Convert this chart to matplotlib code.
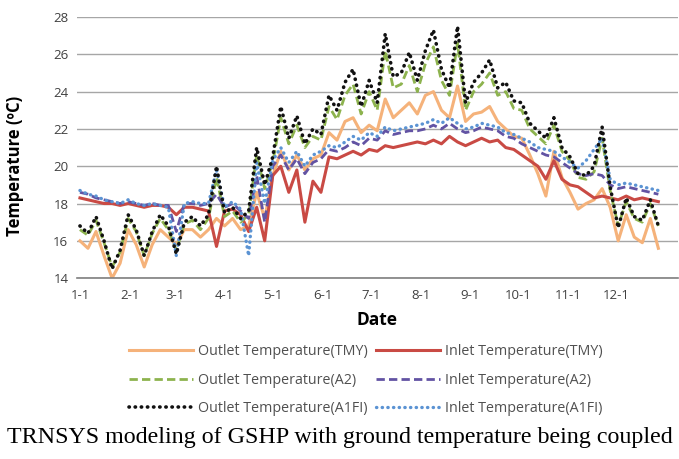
import matplotlib
matplotlib.use("Agg")
import matplotlib.pyplot as plt
import numpy as np

# day of year, sampled every 5 days
days = np.arange(0, 365, 5)

month_ticks = [0, 31, 59, 90, 120, 151, 181, 212, 243, 273, 304, 334]
month_labels = ['1-1', '2-1', '3-1', '4-1', '5-1', '6-1', '7-1', '8-1', '9-1', '10-1', '11-1', '12-1']

outlet_a1fi = [16.8, 16.4, 17.3, 16.0, 14.5, 15.5, 17.4, 16.6, 15.2, 16.5, 17.4, 16.8, 15.3, 17.0,
               17.3, 16.8, 17.4, 20.0, 17.5, 17.8, 17.2, 17.6, 21.0, 19.0, 20.5, 23.2, 21.5, 22.7,
               21.2, 22.0, 21.7, 23.8, 23.0, 24.5, 25.2, 23.2, 24.6, 23.4, 27.1, 24.8, 25.0, 26.1,
               24.6, 26.2, 27.3, 25.2, 24.2, 27.5, 23.4, 24.5, 25.0, 25.7, 24.2, 24.5, 23.5, 23.4,
               22.3, 21.9, 21.5, 22.6, 21.0, 20.5, 19.6, 19.5, 20.0, 22.1, 18.9, 16.7, 18.3, 17.3,
               17.1, 18.2, 16.8]

outlet_a2 = [16.6, 16.3, 17.1, 15.9, 14.6, 15.4, 17.2, 16.5, 15.2, 16.4, 17.2, 16.6, 15.5, 16.9,
             17.1, 16.6, 17.2, 19.4, 17.3, 17.6, 17.0, 17.4, 20.6, 18.8, 20.2, 22.6, 21.2, 22.2,
             21.0, 21.6, 21.4, 23.2, 22.5, 23.8, 24.4, 22.8, 24.0, 23.0, 26.2, 24.2, 24.4, 25.4,
             24.0, 25.5, 26.4, 24.6, 23.8, 26.6, 23.0, 24.0, 24.4, 25.0, 23.8, 24.0, 23.1, 23.0,
             22.0, 21.6, 21.2, 22.2, 20.8, 20.3, 19.4, 19.3, 19.7, 21.5, 18.7, 16.8, 18.1, 17.2,
             17.0, 18.0, 16.8]

outlet_tmy = [16.0, 15.6, 16.5, 15.2, 14.0, 14.8, 16.6, 15.8, 14.6, 15.8, 16.6, 16.2, 15.8, 16.6,
              16.6, 16.2, 16.6, 17.2, 16.8, 17.2, 16.6, 16.8, 18.6, 17.2, 19.5, 20.8, 19.8, 20.6,
              19.8, 20.4, 20.6, 21.8, 21.4, 22.4, 22.6, 21.8, 22.2, 21.9, 23.6, 22.6, 23.0, 23.4,
              22.8, 23.8, 24.0, 23.0, 22.6, 24.3, 22.4, 22.8, 22.9, 23.2, 22.4, 22.0, 21.6, 21.5,
              20.6, 19.6, 18.4, 20.8, 19.4, 18.6, 17.7, 18.0, 18.2, 18.8, 17.8, 16.0, 17.4, 16.2,
              15.9, 17.2, 15.6]

inlet_tmy = [18.3, 18.2, 18.1, 18.0, 18.0, 17.9, 18.0, 17.9, 17.8, 17.9, 17.9, 17.8, 17.4, 17.8,
             17.8, 17.7, 17.6, 15.7, 17.6, 17.7, 17.4, 16.5, 17.8, 16.0, 19.5, 20.0, 18.6, 19.8,
             17.0, 19.2, 18.6, 20.5, 20.4, 20.6, 20.8, 20.6, 20.9, 20.8, 21.1, 21.0, 21.1, 21.2,
             21.3, 21.2, 21.4, 21.2, 21.6, 21.3, 21.1, 21.3, 21.5, 21.3, 21.4, 21.0, 20.9, 20.6,
             20.3, 20.0, 19.3, 20.3, 19.3, 19.0, 18.9, 18.6, 18.3, 18.4, 18.3, 18.2, 18.4, 18.2,
             18.3, 18.2, 18.1]

inlet_a2 = [18.6, 18.5, 18.3, 18.2, 18.1, 18.0, 18.1, 18.0, 17.9, 18.0, 17.9, 17.9, 16.5, 18.0,
            18.0, 17.9, 18.0, 18.5, 17.8, 18.0, 17.6, 17.2, 19.5, 17.0, 20.0, 20.6, 19.8, 20.4,
            19.6, 20.2, 20.4, 20.9, 20.8, 21.0, 21.3, 21.1, 21.5, 21.4, 21.9, 21.7, 21.8, 21.9,
            21.9, 22.0, 22.2, 22.0, 22.3, 22.0, 21.8, 21.9, 22.1, 22.0, 21.9, 21.6, 21.5, 21.2,
            21.0, 20.8, 20.6, 20.5, 20.2, 19.9, 19.6, 19.5, 19.6, 19.5, 19.0, 18.8, 18.9, 18.8,
            18.7, 18.6, 18.5]

inlet_a1fi = [18.7, 18.5, 18.4, 18.2, 18.1, 18.0, 18.2, 18.0, 17.9, 18.0, 17.9, 17.8, 15.2, 18.0,
              18.1, 18.0, 18.0, 19.8, 17.8, 18.1, 17.7, 15.2, 20.2, 18.0, 20.3, 21.0, 20.2, 20.8,
              20.0, 20.6, 20.8, 21.1, 21.0, 21.3, 21.6, 21.4, 21.8, 21.6, 22.1, 21.9, 22.0, 22.1,
              22.2, 22.3, 22.5, 22.3, 22.6, 22.3, 22.0, 22.1, 22.3, 22.2, 22.1, 21.8, 21.7, 21.5,
              21.3, 21.0, 20.9, 20.8, 20.5, 20.2, 19.9, 20.3, 20.9, 21.5, 19.3, 19.0, 19.1, 19.0,
              18.9, 18.8, 18.7]

ORANGE = '#F5B27A'
RED = '#C94A44'
GREEN = '#8DB34E'
PURPLE = '#6253A3'
BLACK = '#111111'
BLUE = '#5B93D3'

plt.rcParams['font.family'] = ['Open Sans', 'DejaVu Sans']

fig = plt.figure(figsize=(6.79, 4.59), dpi=100)
ax = fig.add_axes([0.113, 0.394, 0.885, 0.569])

l_out_tmy, = ax.plot(days, outlet_tmy, color=ORANGE, lw=2.2, label='Outlet Temperature(TMY)')
l_in_tmy, = ax.plot(days, inlet_tmy, color=RED, lw=2.2, label='Inlet Temperature(TMY)')
l_out_a2, = ax.plot(days, outlet_a2, color=GREEN, lw=2.0, ls=(0, (3, 1.5)), label='Outlet Temperature(A2)')
l_in_a2, = ax.plot(days, inlet_a2, color=PURPLE, lw=2.0, ls=(0, (3, 1.5)), label='Inlet Temperature(A2)')
l_in_a1fi, = ax.plot(days, inlet_a1fi, color=BLUE, lw=2.4, ls=(0, (0.1, 1.6)),
                     dash_capstyle='round', label='Inlet Temperature(A1FI)')
l_out_a1fi, = ax.plot(days, outlet_a1fi, color=BLACK, lw=2.6, ls=(0, (0.1, 1.6)),
                      dash_capstyle='round', label='Outlet Temperature(A1FI)')

ax.set_xlim(-2, 372)
ax.set_ylim(14, 28)
ax.set_yticks(np.arange(14, 29, 2))
ax.set_xticks(month_ticks)
ax.set_xticklabels(month_labels)
ax.tick_params(axis='both', length=0, labelsize=9.5, colors='#404040')
ax.tick_params(axis='x', pad=8)
ax.tick_params(axis='y', pad=6)
ax.grid(axis='y', color='#a6a6a6', lw=1.0)
ax.set_axisbelow(True)
for s in ['left', 'right', 'top']:
    ax.spines[s].set_visible(False)
ax.spines['bottom'].set_color('#7f7f7f')
ax.spines['bottom'].set_linewidth(1.2)

ax.set_ylabel('Temperature (ºC)', fontsize=12, fontweight='bold')
ax.yaxis.set_label_coords(-0.088, 0.43)
ax.set_xlabel('Date', fontsize=12.5, fontweight='bold', labelpad=6)

handles = [l_out_tmy, l_out_a2, l_out_a1fi, l_in_tmy, l_in_a2, l_in_a1fi]
fig.legend(handles=handles, labels=[h.get_label() for h in handles], ncol=2,
           loc='center', bbox_to_anchor=(0.539, 0.172), frameon=False,
           fontsize=10.3, handlelength=4.5, labelspacing=0.95, columnspacing=0.55,
           handletextpad=0.35, labelcolor='#505050')

fig.text(0.5, 0.047, 'TRNSYS modeling of GSHP with ground temperature being coupled',
         ha='center', va='center', fontsize=17.3, family=['Liberation Serif', 'DejaVu Serif'])

fig.savefig('out.png', dpi=100, facecolor='white')
